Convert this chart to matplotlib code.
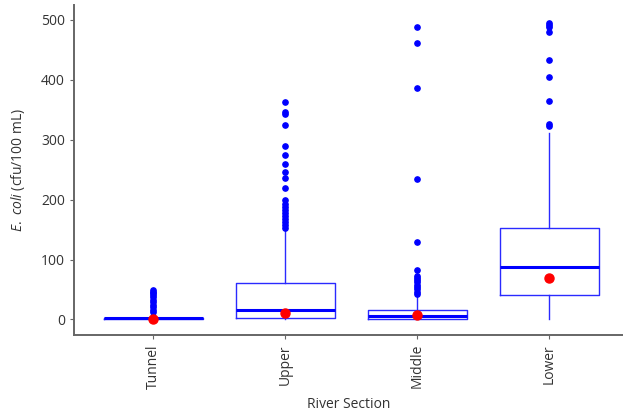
import numpy as np
import matplotlib.pyplot as plt

sections = ['Tunnel', 'Upper', 'Middle', 'Lower']

# box stats
q1s = [0, 3, 0, 41]
medians = [2, 16, 6, 87]
q3s = [3, 61, 16, 152]
whislo = [0, 0, 0, 1]
whishi = [4, 148, 37, 311]
means = [0.5, 10, 8, 70]

tunnel_out = [13, 16, 20, 24, 29, 33, 37, 41, 44, 46, 49]
upper_out = [153, 157, 162, 167, 172, 177, 182, 187, 193, 200, 220, 236,
             247, 259, 274, 289, 325, 343, 346, 363]
middle_out = [43, 46, 50, 54, 58, 62, 66, 70, 72, 82, 130, 235, 386, 461, 488]
lower_out = [323, 326, 365, 405, 434, 480, 488, 492, 495]
outliers = [tunnel_out, upper_out, middle_out, lower_out]

plt.rcParams['font.family'] = ['Open Sans', 'DejaVu Sans']
plt.rcParams['mathtext.fontset'] = 'custom'
plt.rcParams['mathtext.rm'] = 'Open Sans'
plt.rcParams['mathtext.it'] = 'Open Sans:italic'

fig = plt.figure(figsize=(6.23, 4.19), dpi=100)
ax = fig.add_axes([0.119, 0.2005, 0.881, 0.7875])

stats = []
for ii in range(len(sections)):
    stats.append({'label': sections[ii], 'q1': q1s[ii], 'med': medians[ii],
                  'q3': q3s[ii], 'whislo': whislo[ii], 'whishi': whishi[ii],
                  'fliers': outliers[ii]})

blue = '#2a2aff'
ax.bxp(stats, positions=range(len(sections)), widths=0.75, showcaps=False,
       boxprops=dict(color=blue, linewidth=1),
       whiskerprops=dict(color=blue, linewidth=1),
       medianprops=dict(color='#0000ff', linewidth=2.2),
       flierprops=dict(marker='o', markerfacecolor='#0000ff', markeredgecolor='#0000ff',
                       markersize=3.8, linestyle='none'))
ax.plot(range(len(sections)), means, 'o', color='#ff0000', markersize=6.5, zorder=5)

ax.set_xlim(-0.6, 3.56)
ax.set_ylim(-26, 525)
ax.set_yticks([0, 100, 200, 300, 400, 500])
ax.set_xticks(range(len(sections)))
ax.set_xticklabels(sections, rotation=90)

for side in ['top', 'right']:
    ax.spines[side].set_visible(False)
for side in ['left', 'bottom']:
    ax.spines[side].set_color('#666666')
    ax.spines[side].set_linewidth(1.4)
ax.tick_params(axis='both', colors='#666666', labelcolor='#333333', labelsize=10, length=3)

ax.set_xlabel('River Section', fontsize=10, color='#333333', labelpad=6)
ax.set_ylabel('$\\it{E.\\ coli}$ (cfu/100 mL)', fontsize=10, color='#333333', labelpad=10)

plt.savefig('out.png')
